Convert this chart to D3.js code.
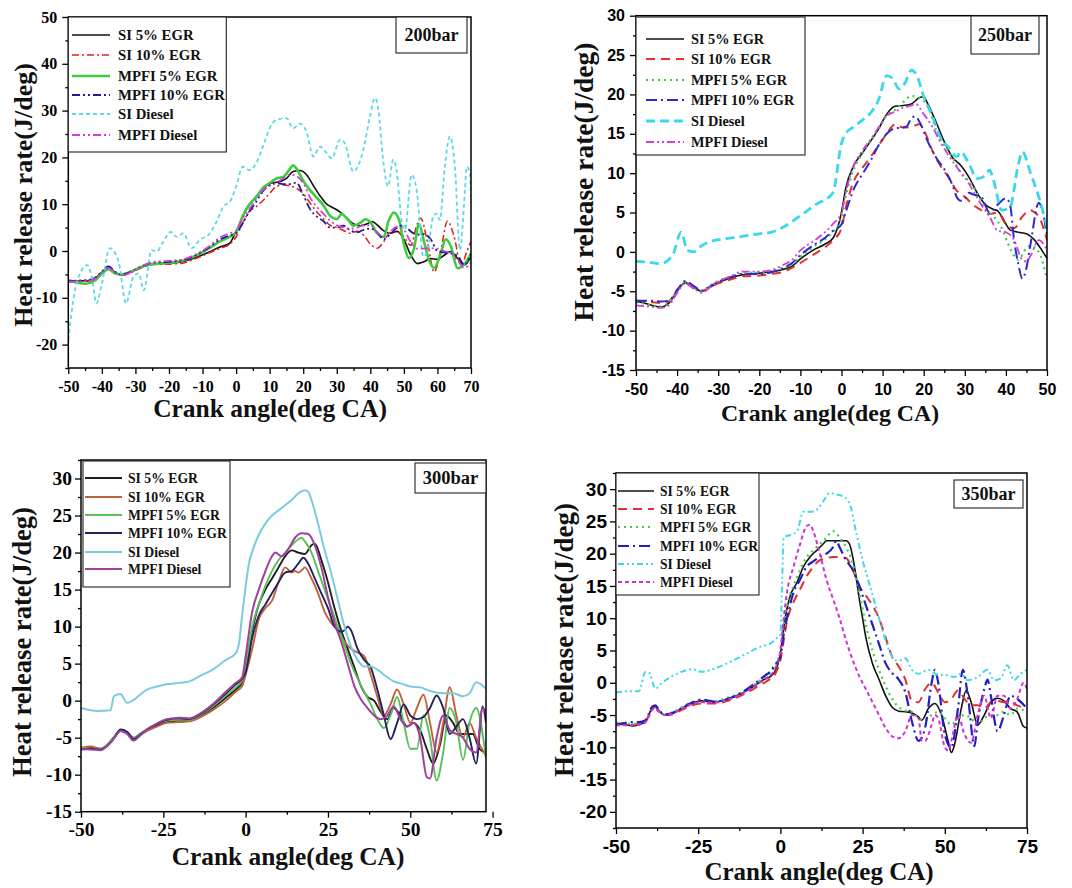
<!DOCTYPE html>
<html><head><meta charset="utf-8">
<script src="https://cdn.jsdelivr.net/npm/d3@7"></script>
<style>body{margin:0;background:#fff}</style>
</head><body>
<svg id="c" width="1072" height="888" xmlns="http://www.w3.org/2000/svg"></svg>
<script>
// ---------------- DATA ----------------
const seriesNames = ["SI 5% EGR","SI 10% EGR","MPFI 5% EGR","MPFI 10% EGR","SI Diesel","MPFI Diesel"];
const panelLabels = ["200bar","250bar","300bar","350bar"];
const xTitle = "Crank angle(deg CA)";
const yTitle = "Heat release rate(J/deg)";

const xTicks200 = [-50,-40,-30,-20,-10,0,10,20,30,40,50,60,70];
const yTicks200 = [-20,-10,0,10,20,30,40,50];
const xTicks250 = [-50,-40,-30,-20,-10,0,10,20,30,40,50];
const yTicks250 = [-15,-10,-5,0,5,10,15,20,25,30];
const xTicks300 = [-50,-25,0,25,50,75];
const yTicks300 = [-15,-10,-5,0,5,10,15,20,25,30];
const xTicks350 = [-50,-25,0,25,50,75];
const yTicks350 = [-20,-15,-10,-5,0,5,10,15,20,25,30];

// 200 bar
const d200_SI5 = [[-50,-6.6],[-47,-6.4],[-44,-6.3],[-42,-5.8],[-40,-4.6],[-38,-3.5],[-36,-4.6],[-34,-5.1],[-31,-4.4],[-28,-3.4],[-25,-2.8],[-20,-2.6],[-16,-2.3],[-12,-1.4],[-8,-0.2],[-5,0.8],[-2,1.6],[0,4.2],[1.5,6.5],[3,9],[5,10.8],[7,12.5],[9,14],[11,14.6],[13,14.8],[15,15.5],[17,17],[19,17.2],[21,16.3],[23,14],[25,11.8],[27,10],[29,9.2],[31,8.3],[33,7],[35,5.8],[37,5.4],[39,5.8],[40.5,6.3],[42,5.6],[44,4.3],[46,3.8],[48,4.2],[50,2.5],[52,-0.8],[54,-2.7],[56,-2.3],[58,-1.6],[60,-1.8],[62,-0.9],[64,-0.1],[66,-1.6],[68,-3],[70,-1.2]];
const d200_SI10 = [[-50,-6.4],[-47,-6.5],[-44,-6.4],[-42,-5.9],[-40,-4.5],[-38,-3.7],[-36,-4.7],[-34,-5.2],[-31,-4.5],[-28,-3.5],[-25,-2.9],[-20,-2.8],[-16,-2.6],[-12,-1.6],[-8,-0.4],[-5,0.5],[-2,1.4],[0,3],[2,6],[4,8.5],[6,9.5],[8,10.8],[10,12.3],[12,13.8],[14,14.1],[16,13.9],[18,13.4],[20,12.3],[22,10.3],[24,8.4],[26,6.9],[28,5.5],[30,5],[32,4.4],[34,3.8],[36,4.2],[38,3.4],[40,1.5],[42,0.6],[44,2],[46,4],[48,4.1],[50,3],[52,1.2],[54,5.8],[55,7],[57,2],[59,-4.5],[61,0.2],[63,6.4],[65,3],[67,-3],[69,0.3],[70,2]];
const d200_MPFI5 = [[-50,-6.2],[-47,-6.8],[-45,-7],[-42,-6.3],[-40,-4.8],[-38,-3.9],[-36,-4.8],[-34,-5],[-31,-4.3],[-28,-3.3],[-25,-2.8],[-20,-2.5],[-16,-2.1],[-12,-1],[-8,0.6],[-5,2],[-2,3],[0,4],[2,7.5],[4,10],[6,11.5],[8,13.5],[10,14.5],[12,15.5],[14,15.8],[16,17.5],[17,18.3],[18,17.6],[20,15],[22,13],[24,11.4],[26,9.8],[28,7.5],[30,6.8],[31.5,7.9],[33,7],[35,5.4],[37,6],[38.5,6.8],[40,6.2],[42,3.8],[44,3],[45.5,6.5],[47,8.2],[48.5,6.8],[50,1.5],[51.5,-1.5],[53,0.5],[54.5,5.8],[56,2],[57.5,-2],[59,-3.6],[61,-0.5],[62.5,2.5],[64,1],[66,-3.7],[68,-2.8],[70,-0.5]];
const d200_MPFI10 = [[-50,-6.5],[-47,-6.3],[-44,-6.2],[-42,-5.7],[-40,-4.4],[-38,-3.3],[-36,-4.5],[-34,-5],[-31,-4.3],[-28,-3.2],[-25,-2.5],[-20,-2.3],[-16,-2],[-12,-0.9],[-8,0.8],[-5,2.4],[-2,3.3],[0,3.8],[2,6],[4,8.5],[6,10.5],[8,12.8],[10,14],[12,14.5],[14,14.3],[16,14.3],[18,14.6],[20,12],[22,9],[24,7.4],[26,6.4],[28,5],[30,5],[32,5.4],[34,4.4],[36,4],[38,4.5],[40,4.8],[42,4],[44,2.5],[46,3.6],[48,5],[50,5.5],[52,4.2],[54,3.5],[56,3.6],[58,2.5],[60,0],[62,-0.3],[64,-0.5],[66,-1],[68,-3],[70,-0.5]];
const d200_SIDiesel = [[-50,-19],[-48,-8.4],[-46.5,-4.8],[-44.3,-3],[-43,-5.5],[-41.6,-11.2],[-40,-7],[-37.6,0.6],[-35,-2.3],[-32.8,-11.2],[-30.6,-5.5],[-29,-4.8],[-27.5,-8.4],[-25.2,0.2],[-23.7,-0.1],[-21.7,2],[-19.5,4.1],[-17.7,3],[-15.7,3.8],[-13.3,0.6],[-10.8,2.4],[-7.8,3.8],[-5.8,6.3],[-3.8,9.5],[-1.8,10.6],[0,13.8],[2,18],[4,17.3],[6,18.8],[8,22.3],[10,26.2],[12,28],[15,28.4],[17,26.2],[19,27.2],[21,25.5],[23,20.2],[25,22.3],[27,20.9],[28.5,19.8],[31,23.8],[32.4,23],[34.9,17],[37.9,21.6],[39.9,28.7],[41.4,32.7],[42.4,30.2],[43.8,19.5],[45.3,13.8],[46.8,19.5],[47.8,17.3],[49.3,6.6],[50.3,4.5],[52.3,16.3],[53.8,13],[55.8,-1.2],[57.3,0.9],[58.7,7.3],[59.7,8],[60.7,6.6],[62.2,18],[63.7,24.5],[65.2,18],[66.7,0.2],[68.2,13],[68.7,18],[69.7,16.6],[70,10]];
const d200_MPFIDiesel = [[-50,-6.6],[-47,-6.5],[-44,-6.4],[-42,-5.9],[-40,-4.7],[-38,-3.6],[-36,-4.7],[-34,-5.2],[-31,-4.4],[-28,-3.2],[-25,-2.4],[-20,-2.1],[-16,-1.8],[-12,-0.7],[-8,1],[-5,2.8],[-2,3.8],[0,4.3],[2,7],[4,9],[6,11],[8,13],[10,14],[12,14.6],[14,15.5],[16,16.3],[18,16],[20,14.5],[22,11.5],[24,9.5],[26,8],[28,6.5],[30,5.5],[32,5],[34,4.8],[36,5],[38,5.5],[40,5.5],[42,4],[44,3],[46,4.2],[48,5.2],[50,4.5],[52,2],[54,0.5],[56,0.5],[58,0.6],[60,0.5],[62,0],[64,-0.5],[66,-2],[68,-3.6],[70,-2.5]];

// 250 bar
const d250_SI5 = [[-50,-6.3],[-48,-6.5],[-46,-6.8],[-44,-7],[-42,-6.5],[-40,-5],[-38,-3.9],[-36,-4.5],[-34,-5],[-32,-4.5],[-30,-3.9],[-27,-3.3],[-24,-2.9],[-20,-2.7],[-17,-2.5],[-14,-2.2],[-12,-1.8],[-10,-0.9],[-7,0.2],[-4,1],[-2,1.8],[-1,3],[0,5],[1,8],[3,11],[5,12.5],[7,14],[9,15.6],[11,17.5],[13,18.5],[15,18.6],[17,18.8],[19,19.6],[20,19.7],[21,18.8],[23,16.5],[25,14],[27,12],[29,11],[31,9.5],[33,7.5],[35,6],[37,5.4],[38,5.2],[39,4.5],[41,2.8],[43,2.5],[45,2.3],[47,1.5],[49,0],[50,-0.8]];
const d250_SI10 = [[-50,-6.2],[-48,-6.3],[-46,-6.4],[-44,-6.5],[-42,-6.3],[-40,-4.8],[-38,-4],[-36,-4.6],[-34,-5],[-32,-4.5],[-30,-4],[-27,-3.5],[-24,-3.1],[-20,-3],[-17,-2.8],[-14,-2.5],[-12,-2],[-10,-1.4],[-7,-0.4],[-4,0.6],[-2,1.5],[0,3],[1,5.5],[3,9],[5,10.6],[7,12],[9,13.5],[11,15],[13,16.2],[15,15.8],[17,15.9],[19,16.2],[20,15.5],[22,13],[24,11],[26,9.5],[28,7.8],[30,7],[32,6],[34,5.3],[36,4.8],[38,5],[40,3.5],[42,3],[44,4.5],[46,5.3],[47,5],[48,4.5],[50,1.5]];
const d250_MPFI5 = [[-50,-6.4],[-48,-6.6],[-46,-6.8],[-44,-6.9],[-42,-6.4],[-40,-4.9],[-38,-3.8],[-36,-4.4],[-34,-4.9],[-32,-4.3],[-30,-3.7],[-27,-3.2],[-24,-2.7],[-20,-2.6],[-17,-2.4],[-14,-2],[-12,-1.5],[-10,-0.6],[-7,0.6],[-4,1.6],[-2,2.6],[-1,3.2],[0,4.5],[1,7],[3,10.5],[5,12.5],[7,14.1],[9,15.6],[11,17.3],[13,18],[15,19],[17,19.8],[19,19.5],[21,18.5],[23,15.5],[25,13.5],[27,12],[29,10],[31,9],[33,7.5],[35,5.5],[37,4.5],[39,3],[41,0.5],[43,-1],[45,0.5],[46,0.8],[48,0],[50,-3.5]];
const d250_MPFI10 = [[-50,-6.2],[-48,-6.2],[-46,-6.2],[-44,-6.3],[-42,-6.2],[-40,-4.9],[-38,-3.7],[-36,-4.3],[-34,-4.9],[-32,-4.4],[-30,-3.8],[-27,-3.2],[-24,-2.8],[-20,-2.8],[-17,-2.6],[-14,-2],[-12,-1.4],[-10,-0.4],[-7,0.8],[-4,1.8],[-2,2.7],[-1,3],[0,3.5],[1,5],[3,8],[5,9.8],[7,11.5],[9,13.5],[11,15],[13,15.7],[15,15.8],[16,16],[17,17],[18,17.2],[19,16.5],[21,14],[23,12],[25,10.5],[27,8.5],[28,7],[29,6.5],[30,6.7],[31,7.5],[32,7.3],[34,7],[36,5],[38,6],[40,6.8],[41,6],[42,1.5],[43,-1.5],[44,-3.4],[45,-2],[46,1],[48,6.2],[49,5],[50,2]];
const d250_SIDiesel = [[-50,-1.2],[-47,-1.3],[-44,-1.5],[-41,-0.3],[-39,2.5],[-37.5,0.2],[-36,0],[-34,0.8],[-32,1.3],[-28,1.7],[-25,1.9],[-20,2.3],[-17,2.5],[-14,3.2],[-10,4.6],[-6,6.1],[-3,7],[-2,7.6],[0,13.8],[1,15],[3,15.9],[5,16.7],[7,17.6],[9,19.3],[11,22.4],[12.5,22],[14,20.7],[15.5,21.5],[17,23.1],[18.5,22.2],[20,19.7],[22,17.4],[24,14.6],[26,13.3],[28,12.1],[29,12.7],[31,11.2],[33,9.3],[35,9.7],[36,10.4],[37,9.1],[39,5.3],[41,5.7],[43,11],[44,12.7],[46,10],[48,7],[50,3.2]];
const d250_MPFIDiesel = [[-50,-6.8],[-48,-6.9],[-46,-7],[-44,-7.1],[-42,-6.8],[-40,-5.2],[-38,-4],[-36,-4.6],[-34,-5.2],[-32,-4.5],[-30,-3.8],[-27,-3.1],[-24,-2.5],[-20,-2.5],[-17,-2.3],[-14,-1.6],[-12,-1],[-10,0.2],[-7,1.3],[-4,2.5],[-2,3.6],[0,5],[1,7.5],[3,11],[5,12.8],[7,14.2],[9,15.8],[11,17.3],[13,17.8],[15,18.3],[17,18.6],[18,18.8],[20,17.5],[22,16],[24,14],[26,12.3],[28,10.8],[30,9.5],[32,7.8],[34,6],[36,4.5],[38,2.7],[40,2.5],[42,1.5],[44,-1],[45,-1.2],[46,-0.5],[48,1.5],[50,0.3]];

// 300 bar
const d300_SI5 = [[-50,-6.5],[-47,-6.4],[-44,-6.6],[-42,-6],[-40,-5],[-38,-4],[-36,-4.3],[-34,-5.1],[-32,-4.6],[-30,-4],[-27,-3.4],[-24,-2.9],[-20,-2.7],[-17,-2.6],[-14,-2.1],[-10,-1],[-6,0.4],[-3,1.5],[-1,2.5],[0,4.8],[2,9.5],[4,13],[6,15],[8,16.5],[10,18],[12,19.5],[14,20.3],[16,20],[18,19.8],[20,21],[21,21.2],[23,19],[25,16],[27,12.5],[29,9.5],[31,7],[33,4.5],[35,2],[37,0.5],[39,0],[41,-1.5],[43,-2.5],[45,-1],[47,-2],[49,-3.5],[51,-3],[53,-4],[55,-6.5],[57,-8.5],[59,-6],[61,-2],[63,-3],[65,-4.5],[67,-4.5],[69,-4.5],[71,-6.5],[73,-7]];
const d300_SI10 = [[-50,-6.4],[-47,-6.2],[-44,-6.5],[-42,-6],[-40,-5],[-38,-4.1],[-36,-4.4],[-34,-5],[-32,-4.6],[-30,-4.1],[-27,-3.5],[-24,-3],[-20,-2.9],[-17,-2.8],[-14,-2.3],[-10,-1.3],[-6,0],[-3,1.2],[-1,2],[0,3.5],[2,7],[4,11],[6,12.5],[8,13.5],[10,16],[12,18],[14,17.3],[15,17.5],[16,17.3],[17,17.6],[18,18],[20,16.5],[22,14.5],[24,12],[26,10.5],[28,9.5],[30,8],[32,7],[34,6.5],[36,6],[38,3.5],[40,0.5],[42,-2],[44,-0.5],[46,1.5],[48,-0.5],[50,-3],[52,-1],[54,0.8],[56,-3],[58,-7],[60,-3],[62,1.8],[64,-2],[66,-5],[68,-3],[70,-5],[73,-7.5]];
const d300_MPFI5 = [[-50,-6.3],[-47,-6.5],[-44,-6.5],[-42,-5.9],[-40,-4.9],[-38,-4],[-36,-4.4],[-34,-5],[-32,-4.4],[-30,-3.9],[-27,-3.2],[-24,-2.7],[-20,-2.6],[-17,-2.6],[-14,-2],[-10,-0.8],[-6,0.7],[-3,1.8],[-1,2.8],[0,4.5],[2,10],[4,13],[6,15.5],[8,17.5],[10,19],[12,20],[14,21],[16,21.8],[17,22],[18,21.5],[20,20],[22,17.5],[24,15],[26,12.5],[28,10],[30,7.5],[32,5],[34,3],[36,1.2],[38,-0.5],[40,-2.5],[42,-3.7],[44,-2],[46,0.5],[48,-3],[50,-6.5],[52,-6.5],[54,-2],[56,-5],[58,-10.8],[60,-7],[62,-1],[64,-3],[66,-8],[68,-3],[70,-1],[73,-7.8]];
const d300_MPFI10 = [[-50,-6.6],[-47,-6.5],[-44,-6.6],[-42,-6.1],[-40,-5.1],[-38,-3.9],[-36,-4.2],[-34,-5.2],[-32,-4.6],[-30,-3.9],[-27,-3.2],[-24,-2.6],[-20,-2.4],[-17,-2.5],[-14,-1.9],[-10,-0.6],[-6,1],[-3,2.2],[-1,3],[0,3.8],[2,8.5],[4,11.5],[6,13],[8,14.5],[10,16],[12,17.3],[14,17.5],[16,18.5],[17.5,19.3],[19,18.5],[21,16.5],[23,14.5],[25,12.5],[27,10],[29,9.3],[30,9.5],[31,10],[32,9.5],[34,7],[36,5.5],[38,4.5],[40,1.5],[42,-2],[44,-5.2],[46,-3],[48,-0.5],[50,-2],[52,-2.5],[54,-2.2],[56,-1],[58,0.7],[60,-1],[62,-4.5],[64,-3.5],[66,-2.5],[68,-5],[70,-8.5],[72,-0.8],[73,-3]];
const d300_SIDiesel = [[-50,-1],[-45,-1.4],[-41,-1.3],[-40,0.6],[-38,0.9],[-36,-0.3],[-34,0.1],[-30,1.5],[-27,1.9],[-24,2.2],[-20,2.4],[-17,2.6],[-14,3.3],[-10,4.2],[-6,5.5],[-3,6.4],[-2,7.8],[-1,11.8],[0,15.4],[1,18.5],[2,20.1],[4,22.4],[6,23.9],[8,25],[10,25.7],[12,26.4],[14,27.1],[16,28],[18,28.4],[19,28.2],[20,27.1],[22,23.9],[24,20.3],[26,17.2],[28,13.6],[30,10],[32,7.3],[34,5.5],[36,4.6],[38,4.6],[40,4.2],[42,3.5],[45,2.6],[48,2.2],[50,1.9],[53,1.8],[56,1.3],[60,1],[63,1],[66,0.6],[68,1],[70,2.5],[73,1.6]];
const d300_MPFIDiesel = [[-50,-6.5],[-47,-6.6],[-44,-6.7],[-42,-6.1],[-40,-5.1],[-38,-4.1],[-36,-4.5],[-34,-5.4],[-32,-4.7],[-30,-3.9],[-27,-3.1],[-24,-2.5],[-20,-2.3],[-17,-2.4],[-14,-1.8],[-10,-0.5],[-6,1.2],[-3,2.4],[-1,3.2],[0,6],[2,12],[4,15],[6,17.5],[8,19.5],[9,20],[11,19.5],[13,20.5],[15,22],[17,22.6],[19,22.5],[21,21],[23,18],[25,14],[27,10.5],[29,8],[31,5],[33,2],[35,0.2],[37,-1],[39,-2],[41,-2.5],[43,-2],[45,-0.8],[47,-2.5],[49,-3.5],[51,-3],[53,-5],[55,-10.3],[56,-10.5],[58,-5],[60,-2],[62,-4],[64,-4.5],[66,-5],[68,-6.5],[70,-7],[72,-1],[73,-1.5]];

// 350 bar
const d350_SI5 = [[-50,-6.4],[-47,-6.5],[-45,-6.7],[-43,-6.5],[-41,-6],[-40,-5],[-39,-3.8],[-38,-3.6],[-37,-4.3],[-35,-5],[-33,-4.8],[-30,-4],[-27,-3.2],[-24,-2.8],[-20,-3],[-16,-2.5],[-12,-1.7],[-8,-0.5],[-5,0.5],[-3,1],[-2,1.5],[-1,2.5],[0,4.5],[1,8.5],[2,11.5],[3,13.5],[5,15.5],[7,18],[9,19.5],[11,20.5],[13,21.5],[14,22],[16,22],[18,22],[20,22],[21,21.5],[22,19.5],[23,16.5],[24,13],[25,10],[26,7],[28,3],[30,0.5],[32,-2],[34,-3.8],[36,-4.4],[38,-4.5],[40,-4.7],[42,-5.3],[43,-5.8],[45,-4],[47,-3.2],[49,-5],[51,-9],[52,-10.8],[53,-9.5],[55,-4],[56.5,-1.2],[58,-3],[60,-6.5],[62,-5],[64,-3],[66,-2.4],[68,-2.8],[70,-4],[72,-4.5],[74,-6.8],[75,-7]];
const d350_SI10 = [[-50,-6.3],[-47,-6.4],[-45,-6.5],[-43,-6.4],[-41,-6],[-40,-5.1],[-39,-4],[-38,-3.8],[-37,-4.4],[-35,-5],[-33,-4.9],[-30,-4.2],[-27,-3.5],[-24,-3.2],[-20,-3.2],[-16,-2.8],[-12,-2],[-8,-0.9],[-5,0],[-3,0.6],[-2,1],[-1,2],[0,3.5],[1,6.5],[2,9.5],[4,12.5],[6,14.5],[8,16.5],[10,18],[12,19],[14,19.3],[16,19.5],[18,19.5],[20,19.3],[22,17.5],[24,15],[26,13.5],[28,12],[30,10],[32,7],[34,4],[36,2.5],[38,0.5],[40,-2.8],[42,-3],[44,-1],[46,0],[48,-1.5],[50,-3],[52,-2.5],[54,-1.2],[56,-2.5],[58,-3.5],[60,-3.5],[62,-4],[64,-3],[66,-2.8],[68,-3],[70,-3],[72,-3.5],[75,-4]];
const d350_MPFI5 = [[-50,-6.2],[-47,-6.3],[-45,-6.4],[-43,-6.2],[-41,-5.8],[-40,-4.9],[-39,-3.9],[-38,-3.7],[-37,-4.3],[-35,-4.9],[-33,-4.6],[-30,-3.8],[-27,-3],[-24,-2.7],[-20,-2.8],[-16,-2.3],[-12,-1.5],[-8,-0.3],[-5,0.8],[-3,1.5],[-2,2.2],[-1,3.2],[0,5],[1,9],[2,12],[4,15],[6,17.5],[8,19.5],[10,20.5],[12,21.5],[14,22.5],[16,23.5],[18,22.5],[20,21],[22,18.5],[24,14],[26,9],[28,5],[30,2],[32,-0.5],[34,-2.5],[36,-3.8],[38,-4.3],[40,-4.5],[42,-5.5],[44,-5.8],[46,-5],[48,-4.5],[50,-5.5],[52,-6.5],[54,-5.5],[56,-5],[58,-5.5],[60,-6.5],[62,-5.5],[64,-5],[66,-5],[68,-4.5],[70,-5],[72,-4],[75,-4.5]];
const d350_MPFI10 = [[-50,-6.5],[-47,-6.2],[-45,-6.1],[-43,-6.1],[-41,-5.8],[-40,-4.8],[-39,-3.7],[-38,-3.5],[-37,-4.2],[-35,-4.9],[-33,-4.7],[-30,-3.9],[-27,-3.1],[-24,-2.6],[-20,-2.9],[-16,-2.5],[-12,-1.6],[-8,-0.2],[-5,1],[-3,1.8],[-2,2.5],[-1,3.2],[0,4],[1,7.5],[2,10],[4,14],[6,16],[8,18],[10,18.8],[12,19.5],[14,20],[16,21],[17,22],[18,21],[20,19],[22,17.5],[24,15],[26,12],[28,9],[30,6],[32,3],[34,1.5],[36,0.5],[38,-1.5],[40,-6],[42,-9],[44,-7],[46,0],[47,2],[48,0],[50,-8],[52,-10],[54,-4],[55.5,2],[57,-2],[59,-9.8],[60,-6],[62,-1],[63,0.5],[64,-2],[66,-7.5],[68,-5],[70,-2],[72,-2.5],[75,-4]];
const d350_SIDiesel = [[-50,-1.5],[-45,-1.3],[-43,-1.3],[-41,1.7],[-40,1.6],[-38,-0.9],[-36,0],[-33,1],[-30,1.7],[-27,2.1],[-24,1.7],[-20,2.2],[-15,3.3],[-10,4.6],[-6,5.6],[-3,6.1],[-1,7],[0,7.5],[0.5,15],[1,22.5],[3,22.9],[5,23.4],[7,26.5],[9,26.5],[11,26.8],[13,28.1],[15,29.4],[17,29.2],[19,28.9],[21,27.8],[23,23.4],[25,19],[27,15.4],[29,11.8],[31,8.2],[33,5.1],[35,3.5],[37,3.5],[38,3.8],[40,2],[42,1.4],[45,2],[48,1.2],[50,1.2],[53,0.9],[55,1.4],[57,0.4],[60,0.9],[63,2],[65,0.4],[67,0.7],[69,2.7],[71,0.4],[73,1.4],[75,2]];
const d350_MPFIDiesel = [[-50,-6.6],[-47,-6.6],[-45,-6.6],[-43,-6.5],[-41,-6.1],[-40,-5.2],[-39,-4.2],[-38,-4],[-37,-4.5],[-35,-5],[-33,-4.8],[-30,-4.1],[-27,-3.3],[-24,-3],[-20,-3.1],[-16,-2.6],[-12,-1.8],[-8,-0.6],[-5,0.5],[-3,1.2],[-2,1.8],[-1,3],[0,5],[1,10],[2,14],[4,18],[6,21.5],[8,24.3],[9,24.5],[10,23.5],[12,20],[14,16],[16,13],[18,10],[20,6.5],[22,3.5],[24,1],[26,-1],[28,-3],[30,-5],[32,-7],[34,-8.3],[36,-8.6],[38,-7.5],[40,-5],[42,-5.5],[43,-9],[44,-9],[46,-6.5],[47,-5],[48,-5.5],[50,-10],[51,-10.5],[52,-9],[54,-5],[56,-8],[58,-9.3],[60,-5],[62,-2],[64,-5.5],[66,-2],[68,-2],[70,-4],[72,-2.5],[74,0],[75,-1]];

// ---------------- LAYOUT / STYLE ----------------
const SERIF = "'Liberation Serif','Times New Roman',serif";
const SANS = "'Liberation Sans',Arial,sans-serif";
function range(a,b,s){const r=[];for(let v=a;v<=b+1e-9;v+=s)r.push(+v.toFixed(3));return r;}
function minors(a,b,s,majors){return range(a,b,s).filter(v=>!majors.includes(v));}

const styles200 = [
  {c:"#111",w:1.6,d:null},{c:"#e02222",w:1.6,d:"7,3,2,3"},{c:"#3ccc3c",w:2.6,d:null},
  {c:"#1c1c9a",w:1.8,d:"8,3,2,3,2,3"},{c:"#5cd8e6",w:1.8,d:"4,3"},{c:"#d040d8",w:1.8,d:"8,3,2,3,2,3"}];
const styles250 = [
  {c:"#111",w:1.6,d:null},{c:"#e03030",w:2,d:"9,6"},{c:"#44cc44",w:2.2,d:"2,4"},
  {c:"#2a2ad0",w:2,d:"11,4,2,4"},{c:"#3ad8ea",w:2.8,d:"9,5"},{c:"#d040d8",w:1.8,d:"8,3,2,3,2,3"}];
const styles300 = [
  {c:"#1e1e1e",w:1.9,d:null},{c:"#c0603c",w:1.9,d:null},{c:"#58c058",w:1.9,d:null},
  {c:"#22225e",w:1.9,d:null},{c:"#7ccbdc",w:2,d:null},{c:"#a0409c",w:2,d:null}];
const styles350 = [
  {c:"#111",w:1.6,d:null},{c:"#e03030",w:2,d:"9,6"},{c:"#44cc44",w:2.2,d:"2,4"},
  {c:"#2020c0",w:2.2,d:"11,4,2,4"},{c:"#40d8e8",w:2,d:"6,3,2,3,2,3"},{c:"#d030d8",w:2,d:"4,3"}];

const panels = [
  {label:panelLabels[0], data:[d200_SI5,d200_SI10,d200_MPFI5,d200_MPFI10,d200_SIDiesel,d200_MPFIDiesel], styles:styles200,
   left:68.3,right:471,top:17,bottom:368,xd:[-50,70],yd:[-25,50],
   xt:xTicks200,yt:yTicks200,xm:minors(-50,70,5,xTicks200),ym:minors(-25,50,5,yTicks200),
   tickFont:SERIF,tickSize:16,xPad:7,yPad:5,
   yTitle:[23,195,26],xTitle:[270,408,25.5],
   leg:{x0:68.3,y0:17,w:158,h:135,ys:[35,55,76,95,114,135],l1:72,l2:110,tx:118,fs:14.8},
   box:[396,17,71,36,18]},
  {label:panelLabels[1], data:[d250_SI5,d250_SI10,d250_MPFI5,d250_MPFI10,d250_SIDiesel,d250_MPFIDiesel], styles:styles250,
   left:636,right:1047,top:15.7,bottom:370,xd:[-50,50],yd:[-15,30],
   xt:xTicks250,yt:yTicks250,xm:minors(-50,50,5,xTicks250),ym:minors(-15,30,2.5,yTicks250),
   tickFont:SANS,tickSize:16,xPad:8,yPad:5,
   yTitle:[583,182,27.5],xTitle:[830,413,23.8],
   leg:{x0:636,y0:17,w:169,h:138,ys:[39,59,80,100,121,142],l1:646,l2:684,tx:691,fs:14.3},
   box:[971,16,68,38,18]},
  {label:panelLabels[2], data:[d300_SI5,d300_SI10,d300_MPFI5,d300_MPFI10,d300_SIDiesel,d300_MPFIDiesel], styles:styles300,
   left:81,right:486,top:460,bottom:811.7,xd:[-50,73],yd:[-15,32.5],
   xt:xTicks300,yt:yTicks300,xm:[-37.5,-12.5,12.5,37.5,62.5],ym:minors(-15,32.5,2.5,yTicks300),
   tickFont:SERIF,tickSize:19.5,xPad:4,yPad:3,
   yTitle:[22,642,26.6],xTitle:[288,856,25.4],
   leg:{x0:83,y0:461,w:147,h:126,ys:[478,497,515,533,552,569],l1:85,l2:122,tx:128,fs:13.7},
   box:[415,463,71,30,18.5]},
  {label:panelLabels[3], data:[d350_SI5,d350_SI10,d350_MPFI5,d350_MPFI10,d350_SIDiesel,d350_MPFIDiesel], styles:styles350,
   left:616,right:1027,top:473,bottom:828,xd:[-50,75],yd:[-22.5,32.5],
   xt:xTicks350,yt:yTicks350,xm:[-37.5,-12.5,12.5,37.5,62.5],ym:minors(-22.5,32.5,2.5,yTicks350),
   tickFont:SANS,tickSize:19,xPad:6,yPad:3,
   yTitle:[564,640,27],xTitle:[819,871,25],
   leg:{x0:616,y0:473,w:143,h:122,ys:[491,509,527,546,564,582],l1:618,l2:654,tx:660,fs:13.6},
   box:[954,480,69,28,18]}
];

// ---------------- DRAW ----------------
const svg = d3.select("#c");
svg.append("rect").attr("width",1072).attr("height",888).attr("fill","#fff");

panels.forEach((p,pi)=>{
  const x = d3.scaleLinear().domain(p.xd).range([p.left,p.right]);
  const y = d3.scaleLinear().domain(p.yd).range([p.bottom,p.top]);
  const g = svg.append("g");
  const fmt = d => String(d);

  // minor ticks
  g.append("g").attr("transform",`translate(0,${p.bottom})`)
    .call(d3.axisBottom(x).tickValues(p.xm).tickSize(3).tickSizeOuter(0).tickFormat(""))
    .call(s=>s.select(".domain").remove());
  g.append("g").attr("transform",`translate(${p.left},0)`)
    .call(d3.axisLeft(y).tickValues(p.ym).tickSize(3).tickSizeOuter(0).tickFormat(""))
    .call(s=>s.select(".domain").remove());
  // major ticks
  const xa = g.append("g").attr("transform",`translate(0,${p.bottom})`)
    .call(d3.axisBottom(x).tickValues(p.xt).tickSize(6).tickSizeOuter(0).tickPadding(p.xPad).tickFormat(fmt))
    .call(s=>s.select(".domain").remove());
  const ya = g.append("g").attr("transform",`translate(${p.left},0)`)
    .call(d3.axisLeft(y).tickValues(p.yt).tickSize(6).tickSizeOuter(0).tickPadding(p.yPad).tickFormat(fmt))
    .call(s=>s.select(".domain").remove());
  g.selectAll(".tick line").attr("stroke","#000").attr("stroke-width",1.3);
  [xa,ya].forEach(a=>a.selectAll("text").attr("fill","#000")
    .style("font-family",p.tickFont).style("font-weight","bold").style("font-size",p.tickSize+"px"));

  // clip
  const cid = "clip"+pi;
  svg.append("clipPath").attr("id",cid).append("rect")
    .attr("x",p.left).attr("y",p.top).attr("width",p.right-p.left).attr("height",p.bottom-p.top);

  const line = d3.line().x(d=>x(d[0])).y(d=>y(d[1])).curve(d3.curveMonotoneX);
  const lg = g.append("g").attr("clip-path",`url(#${cid})`);
  p.data.forEach((ser,si)=>{
    const st = p.styles[si];
    lg.append("path").datum(ser).attr("d",line).attr("fill","none")
      .attr("stroke",st.c).attr("stroke-width",st.w)
      .attr("stroke-dasharray",st.d).attr("stroke-linejoin","round");
  });

  // frame
  g.append("rect").attr("x",p.left).attr("y",p.top).attr("width",p.right-p.left).attr("height",p.bottom-p.top)
    .attr("fill","none").attr("stroke","#000").attr("stroke-width",1.5);

  // legend
  const L = p.leg;
  g.append("rect").attr("x",L.x0).attr("y",L.y0).attr("width",L.w).attr("height",L.h)
    .attr("fill","#fff").attr("stroke","#222").attr("stroke-width",1.1);
  seriesNames.forEach((n,si)=>{
    const st = p.styles[si];
    g.append("line").attr("x1",L.l1).attr("x2",L.l2).attr("y1",L.ys[si]).attr("y2",L.ys[si])
      .attr("stroke",st.c).attr("stroke-width",st.w).attr("stroke-dasharray",st.d);
    g.append("text").attr("x",L.tx).attr("y",L.ys[si]).attr("dominant-baseline","central")
      .style("font-family",SERIF).style("font-weight","bold").style("font-size",L.fs+"px")
      .attr("fill","#111").text(n);
  });

  // pressure label box
  const B = p.box;
  g.append("rect").attr("x",B[0]).attr("y",B[1]).attr("width",B[2]).attr("height",B[3])
    .attr("fill","#fff").attr("stroke","#222").attr("stroke-width",1.1);
  g.append("text").attr("x",B[0]+B[2]/2).attr("y",B[1]+B[3]/2).attr("text-anchor","middle")
    .attr("dominant-baseline","central").style("font-family",SERIF).style("font-weight","bold")
    .style("font-size",B[4]+"px").attr("fill","#111").text(p.label);

  // axis titles
  g.append("text").attr("x",p.xTitle[0]).attr("y",p.xTitle[1]).attr("text-anchor","middle")
    .attr("dominant-baseline","central").style("font-family",SERIF).style("font-weight","bold")
    .style("font-size",p.xTitle[2]+"px").attr("fill","#111").text(xTitle);
  g.append("text").attr("transform",`translate(${p.yTitle[0]},${p.yTitle[1]}) rotate(-90)`)
    .attr("text-anchor","middle").attr("dominant-baseline","central")
    .style("font-family",SERIF).style("font-weight","bold")
    .style("font-size",p.yTitle[2]+"px").attr("fill","#111").text(yTitle);
});
</script>
</body></html>
